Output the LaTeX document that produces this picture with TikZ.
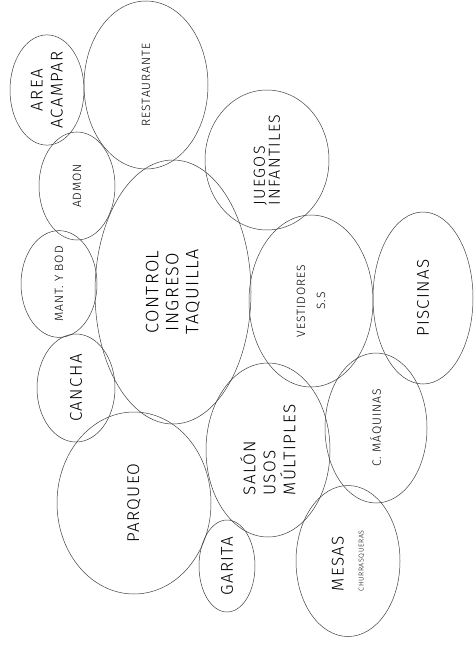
\documentclass[tikz,border=0pt]{standalone}
\usepackage{fontspec}
\setsansfont{Fira Sans}[UprightFont={* Light}, LetterSpace=8]
\usetikzlibrary{shapes.geometric}

\begin{document}
\begin{tikzpicture}[x=1pt, y=-1pt, font=\sffamily,
  bubble/.style={draw=black!75, line width=0.5pt, ellipse, rotate=90, inner sep=0pt, align=center},
  big/.style={font=\sffamily\fontsize{17}{20}\selectfont},
  tiny/.style={font=\sffamily\fontsize{12}{14}\selectfont}]
  \useasboundingbox (0,0) rectangle (475,650);

  \node[bubble, big, minimum width=108, minimum height=74] (acampar) at (47,90) {AREA\\ACAMPAR};
  \node[bubble, tiny, minimum width=168, minimum height=124] (restaurante) at (146,85) {RESTAURANTE};
  \node[bubble, tiny, minimum width=108, minimum height=76] (admon) at (77,186) {ADMON};
  \node[bubble, tiny, minimum width=104, minimum height=76] (mant) at (59,284) {MANT. Y BOD};
  \node[bubble, big, minimum width=108, minimum height=78] (cancha) at (76,388) {CANCHA};
  \node[bubble, minimum width=264, minimum height=156, font=\sffamily\fontsize{18}{20}\selectfont] (control) at (173,292) {CONTROL\\INGRESO\\TAQUILLA};
  \node[bubble, align=left, minimum width=140, minimum height=124, font=\sffamily\fontsize{16}{15}\selectfont] (juegos) at (267,160) {JUEGOS\\INFANTILES};
  \node[bubble, tiny, minimum width=172, minimum height=124] (vestidores) at (311,301) {VESTIDORES\\[6pt]S.S};
  \node[bubble, big, minimum width=172, minimum height=100] (piscinas) at (423,298) {PISCINAS};
  \node[bubble, big, align=left, minimum width=174, minimum height=124] (salon) at (268,450) {SALÓN\\USOS\\MÚLTIPLES};
  \node[bubble, tiny, minimum width=150, minimum height=102] (maquinas) at (376,428) {C. MÁQUINAS};
  \node[bubble, big, align=left, minimum width=151, minimum height=104] (mesas) at (348,561) {MESAS\\{\fontsize{7}{8}\selectfont CHURRASQUERAS}};
  \node[bubble, big, minimum width=182, minimum height=154] (parqueo) at (134,503) {PARQUEO};
  \node[bubble, big, minimum width=92, minimum height=56] (garita) at (227,566) {GARITA};
\end{tikzpicture}
\end{document}
